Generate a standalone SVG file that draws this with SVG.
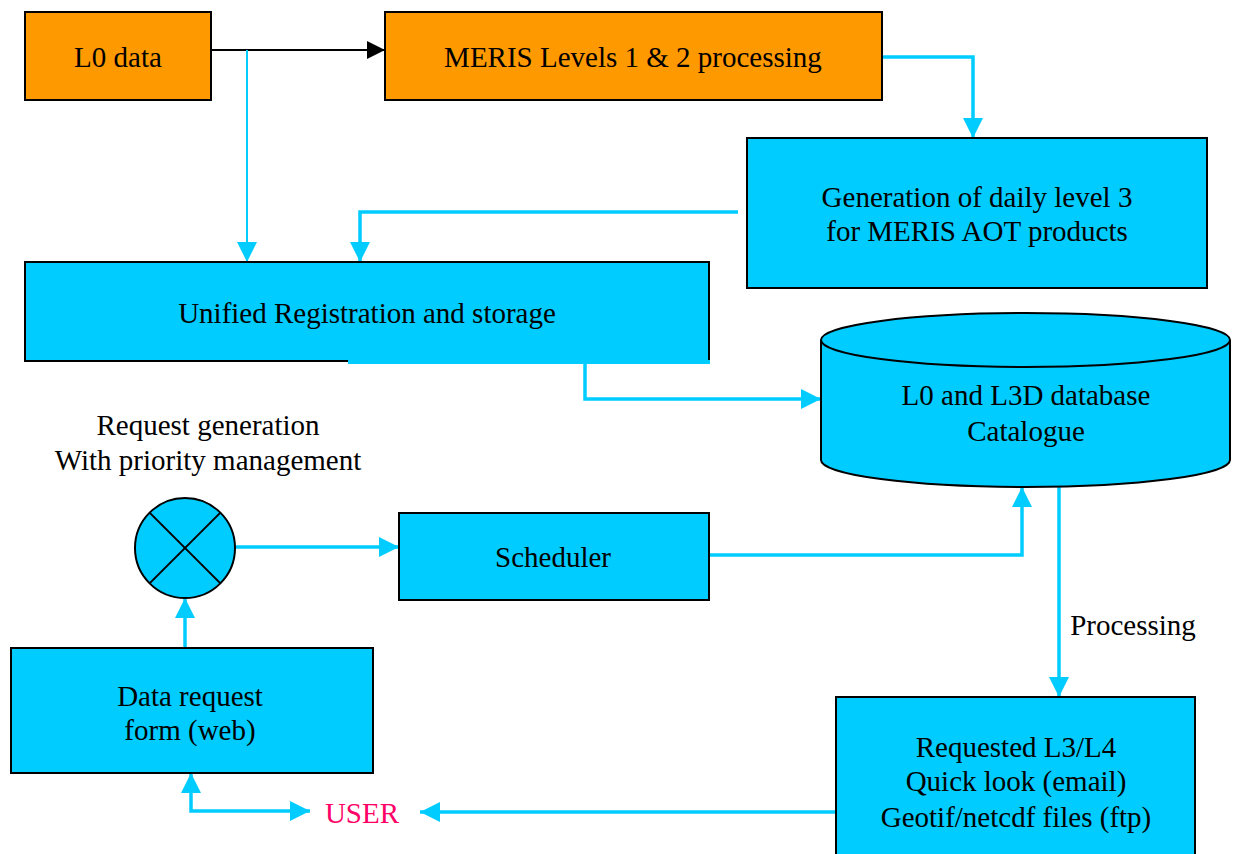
<svg xmlns="http://www.w3.org/2000/svg" width="1235" height="854" viewBox="0 0 1235 854">
<style>
.box{fill:#00CCFF;stroke:#000;stroke-width:2}
.org{fill:#FF9900;stroke:#000;stroke-width:2}
.t{font-family:"Liberation Serif","Times New Roman",serif;font-size:29px;fill:#000;text-anchor:middle}
.c{fill:none;stroke:#00CCFF;stroke-width:3.5}
.ct{fill:none;stroke:#00CCFF;stroke-width:2}
.k{fill:none;stroke:#000;stroke-width:2}
</style>
<defs>
<marker id="ab" viewBox="0 0 10 10" refX="10" refY="5" markerWidth="20" markerHeight="20" markerUnits="userSpaceOnUse" orient="auto-start-reverse"><path d="M0,0 L10,5 L0,10 z" fill="#00CCFF"/></marker>
<marker id="ak" viewBox="0 0 10 10" refX="10" refY="5" markerWidth="18" markerHeight="18" markerUnits="userSpaceOnUse" orient="auto"><path d="M0,0 L10,5 L0,10 z" fill="#000"/></marker>
</defs>
<rect width="1235" height="854" fill="#fff"/>
<g id="connectors">
<path class="k" d="M211,50 H385" marker-end="url(#ak)"/>
<path class="ct" d="M247,50 V262" marker-end="url(#ab)"/>
<path class="c" d="M882,57 H973 V138" marker-end="url(#ab)"/>
<path class="c" d="M738,212 H360 V262" marker-end="url(#ab)"/>
<path class="c" d="M585,361 V399 H821" marker-end="url(#ab)"/>
<path class="c" d="M235,547 H399" marker-end="url(#ab)"/>
<path class="c" d="M709,555 H1022 V487" marker-end="url(#ab)"/>
<path class="c" d="M1059,487 V697" marker-end="url(#ab)"/>
<path class="c" d="M836,812 H420" marker-end="url(#ab)"/>
<path class="c" d="M185,648 V598" marker-end="url(#ab)"/>
<path class="c" d="M310,811 H191 V773" marker-start="url(#ab)" marker-end="url(#ab)"/>
</g>
<g id="l0">
<rect class="org" x="25" y="12" width="186" height="88"/>
<text class="t" x="118" y="67">L0 data</text>
</g>
<g id="meris">
<rect class="org" x="385" y="12" width="497" height="88"/>
<text class="t" x="633" y="67">MERIS Levels 1 &amp; 2 processing</text>
</g>
<g id="generation">
<rect class="box" x="747" y="138" width="460" height="150"/>
<text class="t" x="977" y="207">Generation of daily level 3</text>
<text class="t" x="977" y="241">for MERIS AOT products</text>
</g>
<g id="unified">
<rect class="box" x="25" y="262" width="684" height="99"/>
<rect x="348" y="360" width="362" height="4" fill="#00CCFF"/>
<text class="t" x="367" y="323">Unified Registration and storage</text>
</g>
<g id="database">
<path d="M821,340 V460 A204.5,27 0 0 0 1230,460 V340" fill="#00CCFF" stroke="#000" stroke-width="2"/>
<ellipse cx="1025.5" cy="340" rx="204.5" ry="27" fill="#00CCFF" stroke="#000" stroke-width="2"/>
<text class="t" x="1026" y="405">L0 and L3D database</text>
<text class="t" x="1026" y="441">Catalogue</text>
</g>
<g id="request-generation">
<text class="t" x="208" y="435">Request generation</text>
<text class="t" x="208" y="470">With priority management</text>
<circle cx="185" cy="548" r="50" fill="#00CCFF" stroke="#000" stroke-width="2"/>
<path class="k" d="M149.6,512.6 L220.4,583.4 M220.4,512.6 L149.6,583.4"/>
</g>
<g id="scheduler">
<rect class="box" x="399" y="513" width="310" height="87"/>
<text class="t" x="553" y="567">Scheduler</text>
</g>
<g id="processing-label">
<text class="t" x="1133" y="635">Processing</text>
</g>
<g id="requested">
<rect class="box" x="836" y="697" width="359" height="160"/>
<text class="t" x="1016" y="757">Requested L3/L4</text>
<text class="t" x="1016" y="791">Quick look (email)</text>
<text class="t" x="1016" y="827">Geotif/netcdf files (ftp)</text>
</g>
<g id="data-request">
<rect class="box" x="11" y="648" width="362" height="125"/>
<text class="t" x="190" y="706">Data request</text>
<text class="t" x="190" y="740">form (web)</text>
</g>
<g id="user">
<text class="t" x="362" y="823" style="fill:#FF0066">USER</text>
</g>
</svg>
